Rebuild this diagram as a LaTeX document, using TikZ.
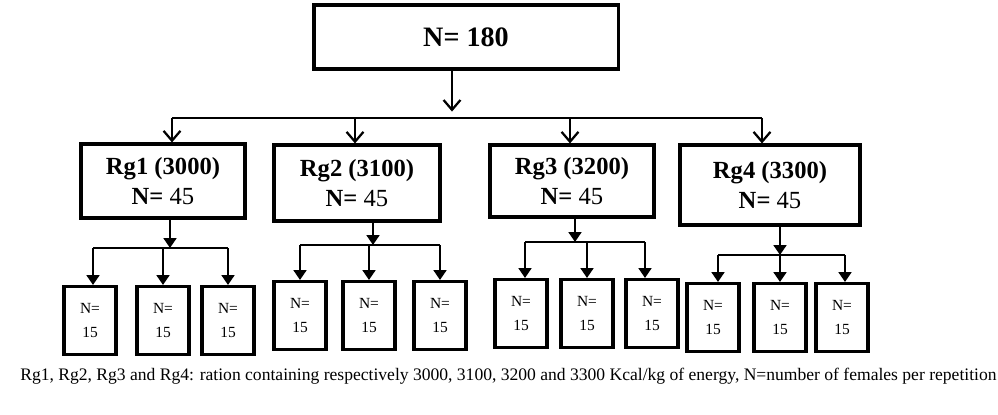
\documentclass[tikz,border=0pt]{standalone}
\usepackage{fontspec}
\setmainfont{Liberation Serif}
\usetikzlibrary{arrows.meta}
\begin{document}
\begin{tikzpicture}[x=0.025cm,y=-0.025cm,
  box/.style={draw, line width=2.2pt, inner sep=0pt},
  group/.style={box, font=\fontsize{17.5}{21}\selectfont\bfseries, align=center},
  sub/.style={box, text width=1.3cm, minimum height=1.7cm, align=center, font=\fontsize{11}{17}\selectfont},
  big/.style={line width=2pt, -{Straight Barb[length=7pt,width=12pt,line width=1.6pt]}},
  small/.style={line width=2pt, -{Triangle[length=7pt,width=9pt]}}]
\useasboundingbox (0,0) rectangle (998,414);
% top
\node[box, minimum width=7.6cm, minimum height=1.6cm, font=\fontsize{20}{24}\selectfont\bfseries] (top) at (466,37) {N= 180};
\coordinate (hub) at (452,118);
\draw[big] (top.south -| hub) -- ++(0,41);
\draw[line width=2pt] (172,118) coordinate (hl) -- (762,118) coordinate (hr);
% groups
\node[group, minimum width=4.1cm, minimum height=1.85cm] (g1) at (163,181) {Rg1 (3000)\\N=~\mdseries 45};
\node[group, minimum width=4.15cm, minimum height=1.9cm] (g2) at (357,183) {Rg2 (3100)\\N=~\mdseries 45};
\node[group, minimum width=4.1cm, minimum height=1.8cm] (g3) at (572,181) {Rg3 (3200)\\N=~\mdseries 45};
\node[group, minimum width=4.5cm, minimum height=2cm] (g4) at (770,185) {Rg4 (3300)\\N=~\mdseries 45};
\coordinate (a1) at (172,118);
\coordinate (a2) at (355,118);
\coordinate (a3) at (570,118);
\coordinate (a4) at (762,118);
\foreach \i in {1,...,4}
  \draw[big] (a\i) -- (a\i |- g\i.north);
% subgroups
\foreach \g/\x/\y/\l/\r/\bx/\cx/\dx/\by in {
   1/170/248/93/228/90/163/228/285,
   2/373/245/300/440/300/369/440/280,
   3/575/242/525/645/521/587/652/278,
   4/780/255/718/845/713/780/842/282}{
  \coordinate (h\g) at (\x,\y);
  \draw[small] (g\g.south -| h\g) -- (h\g);
  \draw[line width=2pt] (\l,\y) -- (\r,\y);
  \node[sub, anchor=north] (s\g a) at (\bx,\by) {N=\\15};
  \node[sub, anchor=north] (s\g b) at (\cx,\by) {N=\\15};
  \node[sub, anchor=north] (s\g c) at (\dx,\by) {N=\\15};
  \draw[small] (\l,\y) -- (\l,\by);
  \draw[small] (s\g b.north |- h\g) -- (s\g b.north);
  \draw[small] (\r,\y) -- (\r,\by);
}
% caption
\node[anchor=north west, text width=24.4cm, align=justify, inner sep=0pt, font=\fontsize{12.5}{15.5}\selectfont] (cap) at (20,368)
  {Rg1, Rg2, Rg3 and Rg4: ration containing respectively 3000, 3100, 3200 and 3300 Kcal/kg of energy, N=number of females per repetition};
\end{tikzpicture}
\end{document}
